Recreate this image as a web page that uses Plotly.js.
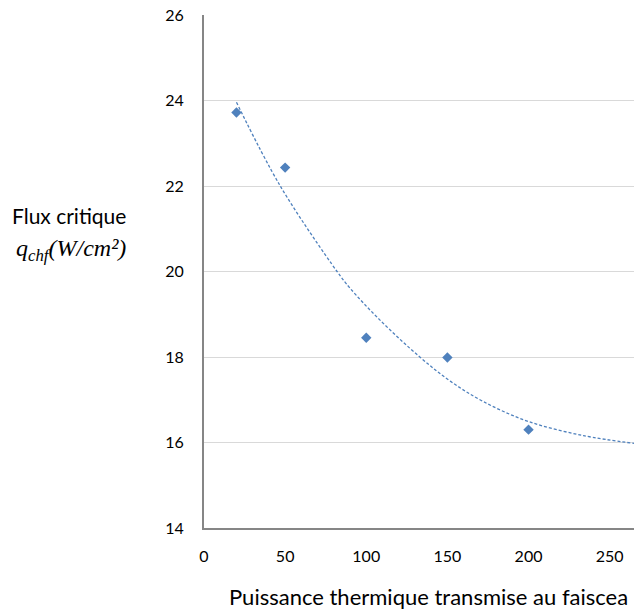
<!DOCTYPE html>
<html>
<head>
<meta charset="utf-8">
<script src="https://cdn.plot.ly/plotly-3.0.1.min.js"></script>
<style>html,body{margin:0;padding:0;background:#fff;}#chart{width:635px;height:616px;}</style>
</head>
<body>
<div id="chart"></div>
<script>
// Measured points
const puissance = [20, 50, 100, 150, 200];
const fluxCritique = [23.72, 22.43, 18.45, 17.99, 16.30];
// Trend line
const trendX = [20, 47, 82, 90, 108, 133, 152, 172, 200, 234, 265];
const trendY = [23.96, 22.0, 20.0, 19.61, 18.88, 18.0, 17.43, 16.96, 16.49, 16.16, 15.98];
const xTicks = [0, 50, 100, 150, 200, 250];
const yTicks = [14, 16, 18, 20, 22, 24, 26];

const traces = [
  {
    x: trendX, y: trendY, mode: 'lines', type: 'scatter',
    line: {color: '#4f81bd', width: 1.3, dash: '3px,2px', shape: 'spline'},
    hoverinfo: 'skip', showlegend: false
  },
  {
    x: puissance, y: fluxCritique, mode: 'markers', type: 'scatter',
    marker: {symbol: 'diamond', size: 8, color: '#4f81bd'},
    showlegend: false
  }
];

const tickFont = {family: 'Lato, "Open Sans", sans-serif', size: 16, color: '#000'};

const layout = {
  width: 635, height: 616,
  margin: {l: 204, r: 1, t: 15, b: 88},
  paper_bgcolor: '#fff', plot_bgcolor: '#fff',
  showlegend: false,
  xaxis: {
    range: [0, 265], tickvals: xTicks, ticktext: xTicks.map(String),
    showgrid: false, zeroline: false,
    showline: true, linecolor: '#868686', linewidth: 2,
    ticks: '', tickfont: tickFont, ticklabelstandoff: 13
  },
  yaxis: {
    range: [14, 26], tickvals: yTicks, ticktext: yTicks.map(String),
    showgrid: true, gridcolor: '#d9d9d9', gridwidth: 1,
    zeroline: false, showline: true, linecolor: '#868686', linewidth: 2,
    ticks: '', tickfont: tickFont, ticklabelstandoff: 15
  },
  annotations: [
    {
      text: 'Puissance thermique transmise au faiscea',
      xref: 'paper', yref: 'paper', x: 0.054, xanchor: 'left',
      y: -0.133, yanchor: 'middle', showarrow: false,
      font: {family: 'Lato, "Open Sans", sans-serif', size: 22, color: '#000'}
    },
    {
      text: 'Flux critique',
      xref: 'paper', yref: 'paper', x: -0.315, xanchor: 'center',
      y: 0.609, yanchor: 'middle', showarrow: false,
      font: {family: 'Lato, "Open Sans", sans-serif', size: 21, color: '#000'}
    },
    {
      text: '<i>q<sub>chf</sub>(W/cm²)</i>',
      xref: 'paper', yref: 'paper', x: -0.31, xanchor: 'center',
      y: 0.541, yanchor: 'middle', showarrow: false,
      font: {family: '"Liberation Serif", "DejaVu Serif", serif', size: 24, color: '#000'}
    }
  ]
};

Plotly.newPlot('chart', traces, layout, {displayModeBar: false, staticPlot: true});
</script>
</body>
</html>
